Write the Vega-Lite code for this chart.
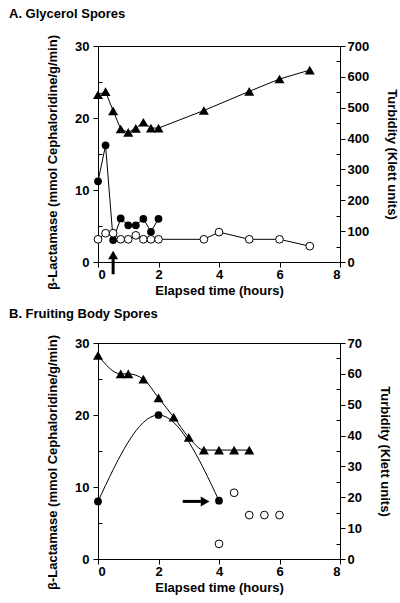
{
  "$schema": "https://vega.github.io/schema/vega-lite/v6.json",
  "padding": {"left": 8, "top": 7, "right": 3, "bottom": 2},
  "background": "white",
  "config": {
    "view": {"stroke": "black", "strokeWidth": 1},
    "axis": {
      "domainColor": "black", "tickColor": "black", "labelColor": "black", "titleColor": "black",
      "labelFont": "Liberation Sans", "labelFontSize": 13, "labelFontWeight": "bold",
      "titleFont": "Liberation Sans", "titleFontSize": 13, "titleFontWeight": "bold",
      "grid": false, "domainWidth": 1, "tickWidth": 1, "labelOverlap": false
    },
    "title": {"font": "Liberation Sans", "fontSize": 13, "fontWeight": "bold", "anchor": "start", "frame": "group", "color": "black"}
  },
  "datasets": {
    "a_turb": [
      {"time": 0, "turbidity": 542}, {"time": 0.25, "turbidity": 552}, {"time": 0.5, "turbidity": 490},
      {"time": 0.75, "turbidity": 431}, {"time": 1, "turbidity": 420}, {"time": 1.25, "turbidity": 433},
      {"time": 1.5, "turbidity": 453}, {"time": 1.75, "turbidity": 434}, {"time": 2, "turbidity": 434},
      {"time": 3.5, "turbidity": 491}, {"time": 5, "turbidity": 553}, {"time": 6, "turbidity": 593},
      {"time": 7, "turbidity": 622}
    ],
    "a_filled": [
      {"time": 0, "lactamase": 11.2}, {"time": 0.25, "lactamase": 16.2}, {"time": 0.5, "lactamase": 3.05},
      {"time": 0.75, "lactamase": 6.05}, {"time": 1, "lactamase": 5.1}, {"time": 1.25, "lactamase": 5.1},
      {"time": 1.5, "lactamase": 6}, {"time": 1.75, "lactamase": 4.2}, {"time": 2, "lactamase": 6}
    ],
    "a_open": [
      {"time": 0, "lactamase": 3.15}, {"time": 0.25, "lactamase": 4}, {"time": 0.5, "lactamase": 4},
      {"time": 0.75, "lactamase": 3.15}, {"time": 1, "lactamase": 3.15}, {"time": 1.25, "lactamase": 3.7},
      {"time": 1.5, "lactamase": 3.15}, {"time": 1.75, "lactamase": 3.15}, {"time": 2, "lactamase": 3.15},
      {"time": 3.5, "lactamase": 3.15}, {"time": 4, "lactamase": 4.15}, {"time": 5, "lactamase": 3.15},
      {"time": 6, "lactamase": 3.15}, {"time": 7, "lactamase": 2.2}
    ],
    "a_arrow": [{"time": 0.5, "from": -1.7, "to": 0.4}],
    "a_head": [{"time": 0.5, "lactamase": 0.97}],
    "b_turb": [
      {"time": 0, "turbidity": 66}, {"time": 0.75, "turbidity": 60}, {"time": 1, "turbidity": 60},
      {"time": 1.5, "turbidity": 58.3}, {"time": 2, "turbidity": 52.2}, {"time": 2.5, "turbidity": 46},
      {"time": 3, "turbidity": 39.4}, {"time": 3.5, "turbidity": 35.3}, {"time": 4, "turbidity": 35.3},
      {"time": 4.5, "turbidity": 35.3}, {"time": 5, "turbidity": 35.3}
    ],
    "b_filled": [
      {"time": 0, "lactamase": 8}, {"time": 2, "lactamase": 20}, {"time": 4, "lactamase": 8.1}
    ],
    "b_open": [
      {"time": 4, "lactamase": 2.1}, {"time": 4.5, "lactamase": 9.2}, {"time": 5, "lactamase": 6.1},
      {"time": 5.5, "lactamase": 6.1}, {"time": 6, "lactamase": 6.1}
    ],
    "b_arrow": [{"time": 2.8, "time2": 3.4, "lactamase": 8}],
    "b_head": [{"time": 3.54, "lactamase": 8}]
  },
  "spacing": 9,
  "vconcat": [
    {
      "title": {"text": "A.  Glycerol Spores", "dx": -89, "offset": 14},
      "width": 242,
      "height": 216,
      "resolve": {"scale": {"y": "independent"}},
      "layer": [
        {
          "encoding": {
            "x": {"field": "time", "type": "quantitative",
              "scale": {"domain": [0, 8], "nice": false},
              "axis": {"title": "Elapsed time (hours)", "values": [0, 1, 2, 3, 4, 5, 6, 7, 8],
                "labelExpr": "datum.value % 2 === 0 ? datum.label : ''",
                "tickSize": {"condition": {"test": "datum.value % 2 !== 0", "value": -4}, "value": 5},
                "labelPadding": 1, "titlePadding": 3}},
            "y": {"field": "lactamase", "type": "quantitative",
              "scale": {"domain": [0, 30], "nice": false},
              "axis": {"title": "β-Lactamase (mmol Cephaloridine/g/min)", "values": [0, 5, 10, 15, 20, 25, 30],
                "labelExpr": "datum.value % 10 === 0 ? datum.label : ''",
                "tickSize": {"condition": {"test": "datum.value % 10 !== 0", "value": -4}, "value": 5},
                "labelPadding": 4, "titlePadding": 15, "titleY": 116}}
          },
          "layer": [
            {"data": {"name": "a_open"}, "mark": {"type": "line", "color": "black", "strokeWidth": 1}},
            {"data": {"name": "a_filled"}, "mark": {"type": "line", "color": "black", "strokeWidth": 1}},
            {"data": {"name": "a_arrow"}, "mark": {"type": "rule", "color": "black", "strokeWidth": 3},
              "encoding": {"y": {"field": "from", "type": "quantitative"}, "y2": {"field": "to"}}},
            {"data": {"name": "a_head"}, "mark": {"type": "point", "shape": "triangle-up", "filled": true, "color": "black", "size": 100, "opacity": 1}},
            {"data": {"name": "a_filled"}, "mark": {"type": "point", "shape": "circle", "filled": true, "color": "black", "size": 60, "opacity": 1}},
            {"data": {"name": "a_open"}, "mark": {"type": "point", "shape": "circle", "filled": true, "fill": "white", "stroke": "black", "strokeWidth": 1, "size": 60, "opacity": 1}}
          ]
        },
        {
          "data": {"name": "a_turb"},
          "encoding": {
            "x": {"field": "time", "type": "quantitative"},
            "y": {"field": "turbidity", "type": "quantitative",
              "scale": {"domain": [0, 700], "nice": false},
              "axis": {"orient": "right", "title": "Turbidity (Klett units)",
                "values": [0, 50, 100, 150, 200, 250, 300, 350, 400, 450, 500, 550, 600, 650, 700],
                "labelExpr": "datum.value % 100 === 0 ? datum.label : ''",
                "tickSize": {"condition": {"test": "datum.value % 100 !== 0", "value": -4}, "value": 5},
                "labelPadding": 2, "titlePadding": 16}}
          },
          "layer": [
            {"mark": {"type": "line", "color": "black", "strokeWidth": 1}},
            {"mark": {"type": "point", "shape": "triangle-up", "filled": true, "color": "black", "size": 100, "opacity": 1}}
          ]
        }
      ]
    },
    {
      "title": {"text": "B. Fruiting Body Spores", "dx": -89, "offset": 14},
      "width": 242,
      "height": 216,
      "resolve": {"scale": {"y": "independent"}},
      "layer": [
        {
          "encoding": {
            "x": {"field": "time", "type": "quantitative",
              "scale": {"domain": [0, 8], "nice": false},
              "axis": {"title": "Elapsed time (hours)", "values": [0, 1, 2, 3, 4, 5, 6, 7, 8],
                "labelExpr": "datum.value % 2 === 0 ? datum.label : ''",
                "tickSize": {"condition": {"test": "datum.value % 2 !== 0", "value": -4}, "value": 5},
                "labelPadding": 1, "titlePadding": 3}},
            "y": {"field": "lactamase", "type": "quantitative",
              "scale": {"domain": [0, 30], "nice": false},
              "axis": {"title": "β-Lactamase (mmol Cephaloridine/g/min)", "values": [0, 5, 10, 15, 20, 25, 30],
                "labelExpr": "datum.value % 10 === 0 ? datum.label : ''",
                "tickSize": {"condition": {"test": "datum.value % 10 !== 0", "value": -4}, "value": 5},
                "labelPadding": 4, "titlePadding": 15, "titleY": 119}}
          },
          "layer": [
            {"data": {"name": "b_filled"}, "mark": {"type": "line", "color": "black", "strokeWidth": 1, "interpolate": "monotone"}},
            {"data": {"name": "b_arrow"}, "mark": {"type": "rule", "color": "black", "strokeWidth": 3},
              "encoding": {"x2": {"field": "time2"}}},
            {"data": {"name": "b_head"}, "mark": {"type": "point", "shape": "triangle-right", "filled": true, "color": "black", "size": 100, "opacity": 1}},
            {"data": {"name": "b_filled"}, "mark": {"type": "point", "shape": "circle", "filled": true, "color": "black", "size": 60, "opacity": 1}},
            {"data": {"name": "b_open"}, "mark": {"type": "point", "shape": "circle", "filled": true, "fill": "white", "stroke": "black", "strokeWidth": 1, "size": 60, "opacity": 1}}
          ]
        },
        {
          "data": {"name": "b_turb"},
          "encoding": {
            "x": {"field": "time", "type": "quantitative"},
            "y": {"field": "turbidity", "type": "quantitative",
              "scale": {"domain": [0, 70], "nice": false},
              "axis": {"orient": "right", "title": "Turbidity (Klett units)",
                "values": [0, 5, 10, 15, 20, 25, 30, 35, 40, 45, 50, 55, 60, 65, 70],
                "labelExpr": "datum.value % 10 === 0 ? datum.label : ''",
                "tickSize": {"condition": {"test": "datum.value % 10 !== 0", "value": -4}, "value": 5},
                "labelPadding": 2, "titlePadding": 16}}
          },
          "layer": [
            {"mark": {"type": "line", "color": "black", "strokeWidth": 1, "interpolate": "monotone"}},
            {"mark": {"type": "point", "shape": "triangle-up", "filled": true, "color": "black", "size": 100, "opacity": 1}}
          ]
        }
      ]
    }
  ]
}
